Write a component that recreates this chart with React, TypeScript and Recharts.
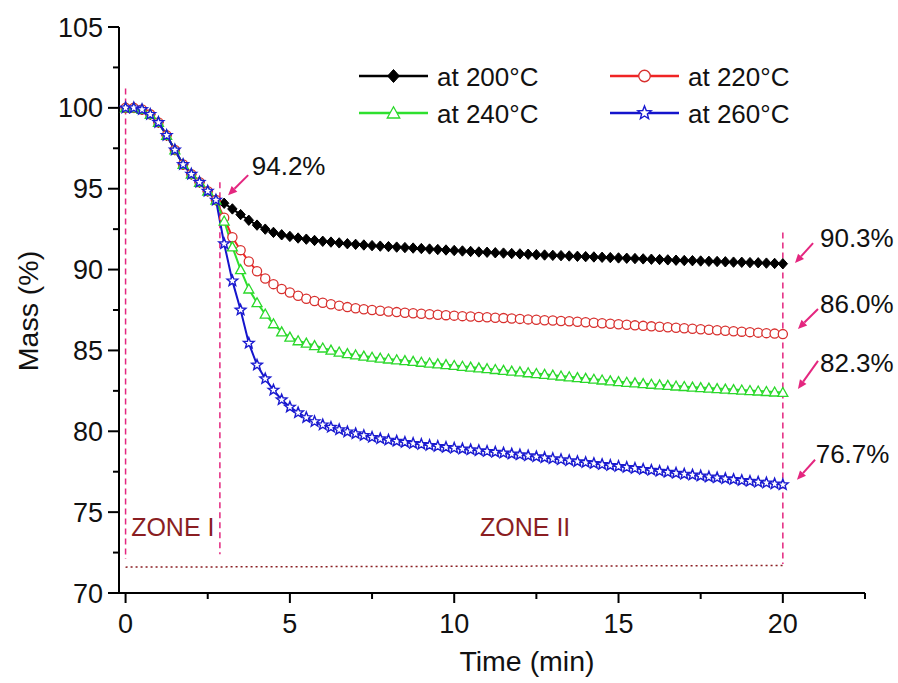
import React from 'react';
import {
  LineChart,
  Line,
  XAxis,
  YAxis,
  ReferenceLine,
  ReferenceDot,
  Legend,
} from 'recharts';

const FONT = '"Liberation Sans", Arial, sans-serif';
const PINK = '#e4267f';
const MAROON = '#8a1e22';

const TIME = [
  0, 0.25, 0.5, 0.75, 1, 1.25, 1.5, 1.75, 2, 2.25, 2.5, 2.75,
  3, 3.25, 3.5, 3.75, 4, 4.25, 4.5, 4.75, 5, 5.25, 5.5, 5.75,
  6, 6.25, 6.5, 6.75, 7, 7.25, 7.5, 7.75, 8, 8.25, 8.5, 8.75,
  9, 9.25, 9.5, 9.75, 10, 10.25, 10.5, 10.75, 11, 11.25, 11.5, 11.75,
  12, 12.25, 12.5, 12.75, 13, 13.25, 13.5, 13.75, 14, 14.25, 14.5, 14.75,
  15, 15.25, 15.5, 15.75, 16, 16.25, 16.5, 16.75, 17, 17.25, 17.5, 17.75,
  18, 18.25, 18.5, 18.75, 19, 19.25, 19.5, 19.75, 20,
];

// zone I: all four runs overlap
const ZONE_ONE = [100.0, 100.0, 99.9, 99.6, 99.1, 98.3, 97.4, 96.5, 95.9, 95.4, 94.85, 94.3];

const TAIL_200 = [
  94.1, 93.75, 93.4, 93.05, 92.75, 92.5, 92.3, 92.15, 92.05, 91.95, 91.88, 91.8,
  91.75, 91.7, 91.65, 91.6, 91.56, 91.52, 91.48, 91.45, 91.42, 91.39, 91.36, 91.33,
  91.3, 91.27, 91.24, 91.21, 91.18, 91.15, 91.12, 91.09, 91.07, 91.04, 91.02, 90.99,
  90.97, 90.95, 90.92, 90.9, 90.88, 90.86, 90.84, 90.82, 90.8, 90.78, 90.76, 90.74,
  90.72, 90.7, 90.68, 90.66, 90.64, 90.62, 90.6, 90.58, 90.56, 90.55, 90.53, 90.51,
  90.5, 90.48, 90.46, 90.45, 90.43, 90.42, 90.4, 90.38, 90.36,
];

const TAIL_220 = [
  93.2, 92.0, 91.2, 90.5, 89.9, 89.45, 89.1, 88.8, 88.58, 88.38, 88.2, 88.06,
  87.95, 87.86, 87.77, 87.68, 87.61, 87.55, 87.5, 87.45, 87.41, 87.37, 87.33, 87.3,
  87.27, 87.24, 87.21, 87.18, 87.15, 87.12, 87.1, 87.07, 87.05, 87.02, 87.0, 86.97,
  86.95, 86.92, 86.9, 86.87, 86.85, 86.82, 86.8, 86.77, 86.74, 86.71, 86.68, 86.65,
  86.62, 86.59, 86.55, 86.52, 86.49, 86.46, 86.43, 86.4, 86.37, 86.34, 86.31, 86.28,
  86.25, 86.22, 86.19, 86.16, 86.13, 86.1, 86.07, 86.04, 86.01,
];

const TAIL_240 = [
  93.0, 91.4, 90.0, 88.8, 87.95, 87.25, 86.65, 86.15, 85.82, 85.6, 85.45, 85.3,
  85.15, 85.02, 84.9, 84.8, 84.72, 84.65, 84.58, 84.52, 84.47, 84.42, 84.37, 84.32,
  84.27, 84.22, 84.17, 84.12, 84.07, 84.02, 83.97, 83.92, 83.87, 83.82, 83.77, 83.72,
  83.67, 83.62, 83.57, 83.52, 83.47, 83.42, 83.37, 83.32, 83.27, 83.22, 83.17, 83.12,
  83.07, 83.03, 82.99, 82.95, 82.91, 82.87, 82.84, 82.8, 82.77, 82.73, 82.7, 82.67,
  82.64, 82.61, 82.58, 82.55, 82.52, 82.49, 82.46, 82.43, 82.4,
];

const TAIL_260 = [
  91.6, 89.3, 87.5, 85.45, 84.1, 83.25, 82.55, 81.95, 81.5, 81.15, 80.85, 80.6,
  80.4, 80.25, 80.1, 79.97, 79.85, 79.74, 79.63, 79.54, 79.46, 79.39, 79.32, 79.25,
  79.19, 79.13, 79.07, 79.01, 78.96, 78.91, 78.86, 78.81, 78.76, 78.71, 78.66, 78.6,
  78.55, 78.49, 78.43, 78.37, 78.31, 78.25, 78.19, 78.13, 78.07, 78.01, 77.95, 77.89,
  77.83, 77.77, 77.71, 77.65, 77.59, 77.53, 77.47, 77.41, 77.35, 77.3, 77.24, 77.18,
  77.13, 77.07, 77.02, 76.96, 76.91, 76.86, 76.81, 76.75, 76.7,
];

const MASS_200 = [...ZONE_ONE, ...TAIL_200];
const MASS_220 = [...ZONE_ONE, ...TAIL_220];
const MASS_240 = [...ZONE_ONE, ...TAIL_240];
const MASS_260 = [...ZONE_ONE, ...TAIL_260];

const X_MAJOR = [0, 5, 10, 15, 20];
const X_MINOR = [2.5, 7.5, 12.5, 17.5, 22.5];
const Y_MAJOR = [70, 75, 80, 85, 90, 95, 100, 105];
const Y_MINOR = [72.5, 77.5, 82.5, 87.5, 92.5, 97.5, 102.5];

const FINAL_LABELS = ['94.2%', '90.3%', '86.0%', '82.3%', '76.7%'];

const data = TIME.map((t, i) => ({
  t,
  c200: MASS_200[i],
  c220: MASS_220[i],
  c240: MASS_240[i],
  c260: MASS_260[i],
}));

type MarkerKind = 'diamond' | 'circle' | 'triangle' | 'star';

function Marker({ kind, cx, cy, color, s = 1 }: { kind: MarkerKind; cx: number; cy: number; color: string; s?: number }) {
  if (kind === 'diamond') {
    const pts = `${cx},${cy - 5.2 * s} ${cx + 4.7 * s},${cy} ${cx},${cy + 5.2 * s} ${cx - 4.7 * s},${cy}`;
    return <polygon points={pts} fill={color} stroke={color} strokeWidth={1} />;
  }
  if (kind === 'circle') {
    return <circle cx={cx} cy={cy} r={4.6 * s} fill="#fff" stroke={color} strokeWidth={1.3} />;
  }
  if (kind === 'triangle') {
    const pts = `${cx},${cy - 5 * s} ${cx + 5 * s},${cy + 4 * s} ${cx - 5 * s},${cy + 4 * s}`;
    return <polygon points={pts} fill="#fff" stroke={color} strokeWidth={1.3} />;
  }
  const pts: string[] = [];
  for (let k = 0; k < 10; k++) {
    const r = (k % 2 === 0 ? 5.6 : 2.4) * s;
    const a = -Math.PI / 2 + (k * Math.PI) / 5;
    pts.push(`${cx + r * Math.cos(a)},${cy + r * Math.sin(a)}`);
  }
  return <polygon points={pts.join(' ')} fill="#fff" stroke={color} strokeWidth={1.4} />;
}

const SERIES: { key: string; name: string; color: string; markerColor: string; kind: MarkerKind }[] = [
  { key: 'c200', name: 'at 200°C', color: '#000000', markerColor: '#000000', kind: 'diamond' },
  { key: 'c220', name: 'at 220°C', color: '#f02424', markerColor: '#d8302e', kind: 'circle' },
  { key: 'c240', name: 'at 240°C', color: '#2ee02e', markerColor: '#2ad82a', kind: 'triangle' },
  { key: 'c260', name: 'at 260°C', color: '#1414cc', markerColor: '#1a1ad0', kind: 'star' },
];

const XTick = (props: any) => {
  const { x, y, payload } = props;
  const major = X_MAJOR.includes(payload.value);
  return (
    <g>
      <line x1={x} y1={y} x2={x} y2={y + (major ? 10 : 6)} stroke="#000" strokeWidth={2} />
      {major && (
        <text x={x} y={y + 40} textAnchor="middle" fontFamily={FONT} fontSize={27} fill="#111">
          {payload.value}
        </text>
      )}
    </g>
  );
};

const YTick = (props: any) => {
  const { x, y, payload } = props;
  const major = Y_MAJOR.includes(payload.value);
  return (
    <g>
      <line x1={x} y1={y} x2={x - (major ? 11 : 6)} y2={y} stroke="#000" strokeWidth={2} />
      {major && (
        <text x={x - 16} y={y + 9.5} textAnchor="end" fontFamily={FONT} fontSize={27} fill="#111">
          {payload.value}
        </text>
      )}
    </g>
  );
};

const Arrow = (props: any) => {
  const { x1, y1, x2, y2 } = props;
  const ang = Math.atan2(y2 - y1, x2 - x1);
  const len = 9;
  const half = 4;
  const bx = x2 - len * Math.cos(ang);
  const by = y2 - len * Math.sin(ang);
  const p1 = `${bx + half * Math.sin(ang)},${by - half * Math.cos(ang)}`;
  const p2 = `${bx - half * Math.sin(ang)},${by + half * Math.cos(ang)}`;
  return (
    <g>
      <line x1={x1} y1={y1} x2={bx} y2={by} stroke={PINK} strokeWidth={2} />
      <polygon points={`${x2},${y2} ${p1} ${p2}`} fill={PINK} />
    </g>
  );
};

const makeText = (text: string, color: string, anchor: 'start' | 'middle', size = 26) => (p: any) => (
  <text x={p.cx} y={p.cy} textAnchor={anchor} fontFamily={FONT} fontSize={size} fill={color}>
    {text}
  </text>
);

const LegendBox = () => {
  const cols = [9, 260];
  const rows = [21, 58];
  return (
    <svg width={480} height={80} style={{ overflow: 'visible' }}>
      {SERIES.map((s, i) => {
        const lx = cols[i % 2];
        const ly = rows[Math.floor(i / 2)];
        return (
          <g key={s.key}>
            <line x1={lx} y1={ly} x2={lx + 69} y2={ly} stroke={s.color} strokeWidth={2.5} />
            <Marker kind={s.kind} cx={lx + 34.5} cy={ly} color={s.markerColor} s={1.25} />
            <text x={lx + 78} y={ly + 10} fontFamily={FONT} fontSize={26} fill="#111">
              {s.name}
            </text>
          </g>
        );
      })}
    </svg>
  );
};

export default function App() {
  return (
    <div style={{ position: 'absolute', left: 0, top: 0, background: '#fff' }}>
      <LineChart width={898} height={683} data={data} margin={{ top: 27, right: 33, bottom: 0, left: 0 }}>
        <XAxis
          type="number"
          dataKey="t"
          domain={[-0.2, 22.5]}
          ticks={[...X_MAJOR, ...X_MINOR]}
          interval={0}
          tick={<XTick />}
          tickLine={false}
          tickSize={0}
          tickMargin={0}
          axisLine={{ stroke: '#000', strokeWidth: 2 }}
          height={90}
          allowDataOverflow
          label={() => (
            <text x={527} y={671} textAnchor="middle" fontFamily={FONT} fontSize={28.5} fill="#111">
              Time (min)
            </text>
          )}
        />
        <YAxis
          type="number"
          domain={[70, 105]}
          ticks={[...Y_MAJOR, ...Y_MINOR]}
          interval={0}
          tick={<YTick />}
          tickLine={false}
          tickSize={0}
          tickMargin={0}
          axisLine={{ stroke: '#000', strokeWidth: 2 }}
          width={119}
          allowDataOverflow
          label={() => (
            <text
              x={38}
              y={311}
              transform="rotate(-90 38 311)"
              textAnchor="middle"
              fontFamily={FONT}
              fontSize={28.5}
              fill="#111"
            >
              Mass (%)
            </text>
          )}
        />

        <ReferenceLine segment={[{ x: 0, y: 101.2 }, { x: 0, y: 72.1 }]} stroke={PINK} strokeWidth={1.5} strokeDasharray="6 4" />
        <ReferenceLine segment={[{ x: 2.87, y: 95.4 }, { x: 2.87, y: 72.4 }]} stroke={PINK} strokeWidth={1.5} strokeDasharray="6 4" />
        <ReferenceLine segment={[{ x: 20, y: 92.3 }, { x: 20, y: 71.8 }]} stroke={PINK} strokeWidth={1.5} strokeDasharray="6 4" />
        <ReferenceLine segment={[{ x: 0, y: 71.6 }, { x: 20, y: 71.7 }]} stroke={MAROON} strokeWidth={1.5} strokeDasharray="2 3" />

        {SERIES.map((s) => (
          <Line
            key={s.key}
            type="linear"
            dataKey={s.key}
            name={s.name}
            stroke={s.color}
            strokeWidth={2}
            isAnimationActive={false}
            dot={(p: any) => (
              <Marker key={`${s.key}-${p.index}`} kind={s.kind} cx={p.cx} cy={p.cy} color={s.markerColor} />
            )}
            activeDot={false}
          />
        ))}

        <ReferenceLine segment={[{ x: 3.73, y: 95.84 }, { x: 3.12, y: 94.6 }]} shape={<Arrow />} />
        <ReferenceLine segment={[{ x: 20.92, y: 91.64 }, { x: 20.37, y: 90.4 }]} shape={<Arrow />} />
        <ReferenceLine segment={[{ x: 21.07, y: 87.56 }, { x: 20.46, y: 86.33 }]} shape={<Arrow />} />
        <ReferenceLine segment={[{ x: 21.07, y: 84.35 }, { x: 20.46, y: 82.62 }]} shape={<Arrow />} />
        <ReferenceLine segment={[{ x: 20.98, y: 78.24 }, { x: 20.43, y: 77.0 }]} shape={<Arrow />} />

        <ReferenceDot x={3.84} y={95.84} r={1} shape={makeText(FINAL_LABELS[0], '#111', 'start')} />
        <ReferenceDot x={21.13} y={91.42} r={1} shape={makeText(FINAL_LABELS[1], '#111', 'start')} />
        <ReferenceDot x={21.13} y={87.3} r={1} shape={makeText(FINAL_LABELS[2], '#111', 'start')} />
        <ReferenceDot x={21.13} y={83.66} r={1} shape={makeText(FINAL_LABELS[3], '#111', 'start')} />
        <ReferenceDot x={21.0} y={78.05} r={1} shape={makeText(FINAL_LABELS[4], '#111', 'start')} />

        <ReferenceDot x={0.17} y={73.54} r={1} shape={makeText('ZONE I', MAROON, 'start', 25)} />
        <ReferenceDot x={12.16} y={73.54} r={1} shape={makeText('ZONE II', MAROON, 'middle', 25)} />

        <Legend
          layout="vertical"
          align="center"
          verticalAlign="middle"
          wrapperStyle={{ left: 350, top: 55, width: 480, height: 80 }}
          content={() => <LegendBox />}
        />
      </LineChart>
    </div>
  );
}
